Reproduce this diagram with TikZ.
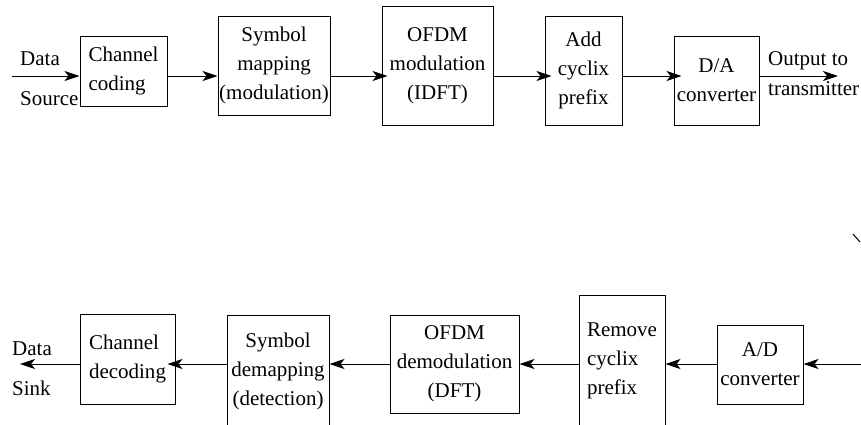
\documentclass[tikz,border=0pt]{standalone}
\usepackage{fontspec}
\setmainfont{Liberation Serif}
\usetikzlibrary{arrows.meta}
\tikzset{
  blk/.style={draw, line width=1pt, inner sep=0pt, font=\fontsize{21}{29}\selectfont},
  lbl/.style={inner sep=0pt, font=\fontsize{21}{29}\selectfont},
  arr/.style={line width=1pt, -{Stealth[length=15pt,width=10pt,inset=4pt]}},
}
\begin{document}
\begin{tikzpicture}[x=1pt,y=-1pt]
\useasboundingbox (0,0) rectangle (861,424);
\clip (0,0) rectangle (861,424);
% transmitter chain
\node[blk, minimum width=87, minimum height=70, align=left] (cc) at (123.5,71) {Channel\\coding};
\node[blk, minimum width=112, minimum height=99, align=center] (sm) at (274,65.5) {Symbol\\mapping\\(modulation)};
\node[blk, minimum width=111, minimum height=119, align=center] (om) at (437.5,65.5) {OFDM\\modulation\\(IDFT)};
\node[blk, minimum width=77, minimum height=109, align=center] (ac) at (583.5,70.5) {Add\\cyclix\\prefix};
\node[blk, minimum width=85, minimum height=89, align=center] (da) at (716.5,80.5) {D/A\\converter};
\node[lbl, anchor=base west] (data1) at (20,65) {Data};
\node[lbl, anchor=base west] (source) at (20,105) {Source};
\node[lbl, anchor=base west] (out1) at (768,65) {Output to};
\node[lbl, anchor=base west] (out2) at (768,95) {transmitter};
\coordinate (src) at (12,76);
\coordinate (tx) at (838,76);
\draw[arr] (src) -- (src -| cc.west);
\draw[arr] (cc.east |- src) -- (sm.west |- src);
\draw[arr, shorten >=-6pt] (sm.east |- src) -- (om.west |- src);
\draw[arr, shorten >=-7pt] (om.east |- src) -- (ac.west |- src);
\draw[arr, shorten >=-8pt] (ac.east |- src) -- (da.west |- src);
\draw[arr] (da.east |- src) -- (tx);
% receiver chain
\node[blk, minimum width=95, minimum height=90, align=left] (cd) at (127.5,359) {Channel\\decoding};
\node[blk, minimum width=102, minimum height=112, align=center] (sd) at (278,371) {Symbol\\demapping\\(detection)};
\node[blk, minimum width=129, minimum height=98, align=center] (od) at (454.5,364) {OFDM\\demodulation\\(DFT)};
\node[blk, minimum width=86, minimum height=132, align=left] (rc) at (622,361) {Remove\\cyclix\\prefix};
\node[blk, minimum width=86, minimum height=79, align=center] (ad) at (760,364.5) {A/D\\converter};
\node[lbl, anchor=base west] (data2) at (12,355) {Data};
\node[lbl, anchor=base west] (sinkt) at (12,395) {Sink};
\coordinate (rin) at (861,364);
\coordinate (sink) at (20,364);
\draw[arr] (rin) -- (rin -| ad.east);
\draw[arr] (ad.west |- rin) -- (rc.east |- rin);
\draw[arr] (rc.west |- rin) -- (od.east |- rin);
\draw[arr] (od.west |- rin) -- (sd.east |- rin);
\draw[arr, shorten >=-8pt] (sd.west |- rin) -- (cd.east |- rin);
\draw[arr] (cd.west |- rin) -- (sink);
% stray mark
\draw[line width=1pt] (853,234) -- (860,242);
\end{tikzpicture}
\end{document}
